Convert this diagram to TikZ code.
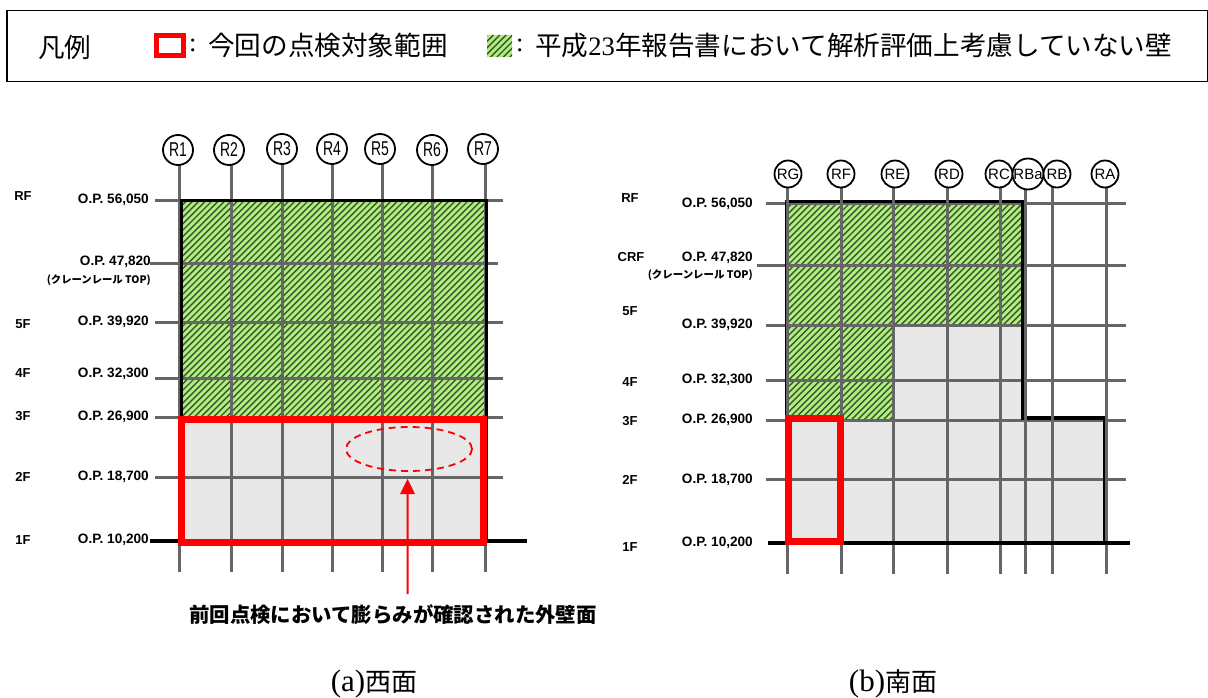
\documentclass[tikz,border=0pt]{standalone}
\usepackage{fontspec}
\usetikzlibrary{shapes.geometric}
\setmainfont{Liberation Sans}
\newfontfamily\jpfont{Noto Sans CJK JP}
\newfontfamily\serifl{Liberation Serif}
\definecolor{gridgray}{HTML}{666666}
\definecolor{wallgray}{HTML}{E8E8E8}
\definecolor{hatchgreen}{HTML}{B0EE7E}
\definecolor{hatchdark}{HTML}{3A5530}
\definecolor{alertred}{HTML}{FF0000}
\newcommand{\fs}[1]{\fontsize{#1}{#1}\selectfont}
\newcommand{\hatchrect}[4]{%
  \begin{scope}
    \clip (#1,#2) rectangle (#3,#4);
    \fill[hatchgreen] (#1,#2) rectangle (#3,#4);
    \foreach \i in {0,6.4,...,820}{
      \draw[hatchdark,line width=1.4pt] (#1+\i-300,#2+300) -- (#1+\i,#2);
    }
  \end{scope}}
\tikzset{
  gridline/.style={draw=gridgray,line width=3pt},
  wall/.style={draw=black,line width=3pt},
  base/.style={draw=black,line width=3.8pt},
  redbox/.style={draw=alertred,line width=7pt},
  axis/.style={circle,draw=black,fill=white,line width=1.8pt,inner sep=0pt},
  axisW/.style={axis,minimum size=30pt},
  axisS/.style={axis,minimum size=27pt},
  level/.style={inner sep=0pt,font=\fs{13}\bfseries},
  oplabel/.style={inner sep=0pt,anchor=east,font=\fs{13.6}\bfseries},
  craneW/.style={inner sep=0pt,anchor=east,font=\jpfont\bfseries\fs{12}},
  legendtext/.style={inner sep=0pt,anchor=west,font=\jpfont\fs{26.6}},
  caption/.style={inner sep=0pt,font=\jpfont\fs{26}},
}
\begin{document}
\begin{tikzpicture}[x=1pt,y=-1pt]
\useasboundingbox (0,0) rectangle (1208,698);
% legend
\node[draw=black,line width=1.5pt,minimum width=1201pt,minimum height=71pt,anchor=north west,inner sep=0pt] (legend) at (6,10) {};
\node[legendtext] (lg0) at (38,47) {凡例};
\node[draw=alertred,line width=4.5pt,minimum width=27pt,minimum height=20pt,inner sep=0pt] (lg1) at (170,45.5) {};
\node[legendtext] (lg2) at (189,45) {\serifl :};
\node[legendtext] (lg3) at (208,45) {今回の点検対象範囲};
\hatchrect{487}{35}{512}{57}
\node[legendtext] (lg4) at (516,45) {\serifl :};
\node[legendtext] (lg5) at (535,45) {平成{\serifl 23}年報告書において解析評価上考慮していない壁};

% ---------- west elevation
\fill[wallgray] (181,417) rectangle (486,541);
\hatchrect{181}{200}{486}{417}
\coordinate (wl1) at (155,200); \coordinate (wr1) at (503,200);
\coordinate (wl2) at (150,263); \coordinate (wr2) at (498,263);
\coordinate (wl3) at (155,322); \coordinate (wr3) at (503,322);
\coordinate (wl4) at (155,378); \coordinate (wr4) at (503,378);
\coordinate (wl5) at (155,417); \coordinate (wr5) at (503,417);
\coordinate (wl6) at (155,477); \coordinate (wr6) at (503,477);
\foreach \n in {1,...,6}{\draw[gridline] (wl\n) -- (wr\n);}
\foreach \n/\cx/\cy/\lx in {R1/178/150/179,R2/229/150/231,R3/282/149/282,R4/332/149/332,R5/380/149/382,R6/432/150/432,R7/483/149/485}{
  \coordinate (we\n) at (\lx,572);
  \draw[gridline] (\lx,\cy) -- (we\n);
  \node[axisW] (w\n) at (\cx,\cy) {\fs{20}\scalebox{0.7}[1]{\n}};
}
\draw[wall] (181,540) -- (181,200) -- (486,200) -- (486,540);
\coordinate (wb1) at (150,541); \coordinate (wb2) at (527,541);
\draw[base] (wb1) -- (wb2);
\draw[redbox] (181.5,419.5) rectangle (483.5,542);
\node[draw=alertred,dash pattern=on 7pt off 5pt,line width=1.8pt,ellipse,minimum width=126pt,minimum height=44pt,inner sep=0pt] (bulge) at (409,449) {};
\node[inner sep=0pt,font=\jpfont\bfseries\fs{20.4}] (bulgelabel) at (393,615) {前回点検において膨らみが確認された外壁面};
\coordinate (arrowtip) at (407.5,479);
\coordinate (arrowtail) at (407.5,594);
\fill[alertred] (arrowtip) -- ++(7.5,15) -- ++(-6.5,0) -- ++(0,100) -- ++(-2,0) -- ++(0,-100) -- ++(-6.5,0) -- cycle;

\foreach \t/\y in {RF/196,5F/324,4F/373,3F/416,2F/477,1F/540}{\node[level] at (23,\y) {\t};}
\foreach \t/\y in {56{,}050/200,39{,}920/322,32{,}300/374,26{,}900/417,18{,}700/477,10{,}200/540}{\node[oplabel] at (149,\y) {O.P. \t};}
\node[oplabel] (wop) at (151,262) {O.P. 47,820};
\node[craneW] (wcr) at (151,280) {\resizebox{104pt}{!}{(クレーンレール TOP)}};

% ---------- south elevation
\fill[wallgray] (786,420) rectangle (1105,543);
\fill[wallgray] (893,325) rectangle (1024,420);
\hatchrect{786}{203}{1024}{325}
\hatchrect{786}{325}{893}{420}
\coordinate (sl1) at (766,203); \coordinate (sr1) at (1126,203);
\coordinate (sl2) at (757,265); \coordinate (sr2) at (1126,265);
\coordinate (sl3) at (766,325); \coordinate (sr3) at (1126,325);
\coordinate (sl4) at (766,380); \coordinate (sr4) at (1126,380);
\coordinate (sl5) at (766,420); \coordinate (sr5) at (1126,420);
\coordinate (sl6) at (766,479); \coordinate (sr6) at (1126,479);
\foreach \n in {1,...,6}{\draw[gridline] (sl\n) -- (sr\n);}
\draw[wall] (786,543) -- (786,201.5) -- (1024,201.5);
\draw[wall,line width=3.5pt] (1023,200) -- (1023,418) -- (1105,418);
\draw[wall] (1104,417) -- (1104,545);
\foreach \n/\cx/\lx in {RG/788/787,RF/841/841,RE/895/893,RD/949/947,RC/999/1000,RB/1057/1052,RA/1105/1106}{
  \coordinate (se\n) at (\lx,574);
  \draw[gridline] (\lx,174) -- (se\n);
}
\draw[gridline] (1025,174) -- (1025,574);
\foreach \n/\cx in {RG/788,RF/841,RE/895,RD/949,RC/999}{
  \node[axisS] (s\n) at (\cx,174) {\fs{15}\n};
}
\node[axis,minimum size=30pt] (sRBa) at (1028,174) {\fs{15}RBa};
\foreach \n/\cx in {RB/1057,RA/1105}{
  \node[axisS] (s\n) at (\cx,174) {\fs{15}\n};
}
\coordinate (sb1) at (768,543); \coordinate (sb2) at (1130,543);
\draw[base] (sb1) -- (sb2);
\draw[redbox] (788,418.5) rectangle (840.5,541.5);

\foreach \t/\x/\y in {RF/630/198,CRF/631/257,5F/630/311,4F/630/382,3F/630/421,2F/630/480,1F/630/547}{\node[level] at (\x,\y) {\t};}
\foreach \t/\y in {56{,}050/204,47{,}820/258,39{,}920/325,32{,}300/380,26{,}900/420,18{,}700/480,10{,}200/543}{\node[oplabel] at (753,\y) {O.P. \t};}
\node[craneW] (scr) at (753,275) {\resizebox{105pt}{!}{(クレーンレール TOP)}};

% captions
\node[caption] (capa) at (374,684) {{\serifl\fs{31}(a)}西面};
\node[caption] (capb) at (893,684) {{\serifl\fs{31}(b)}南面};
\end{tikzpicture}
\end{document}
